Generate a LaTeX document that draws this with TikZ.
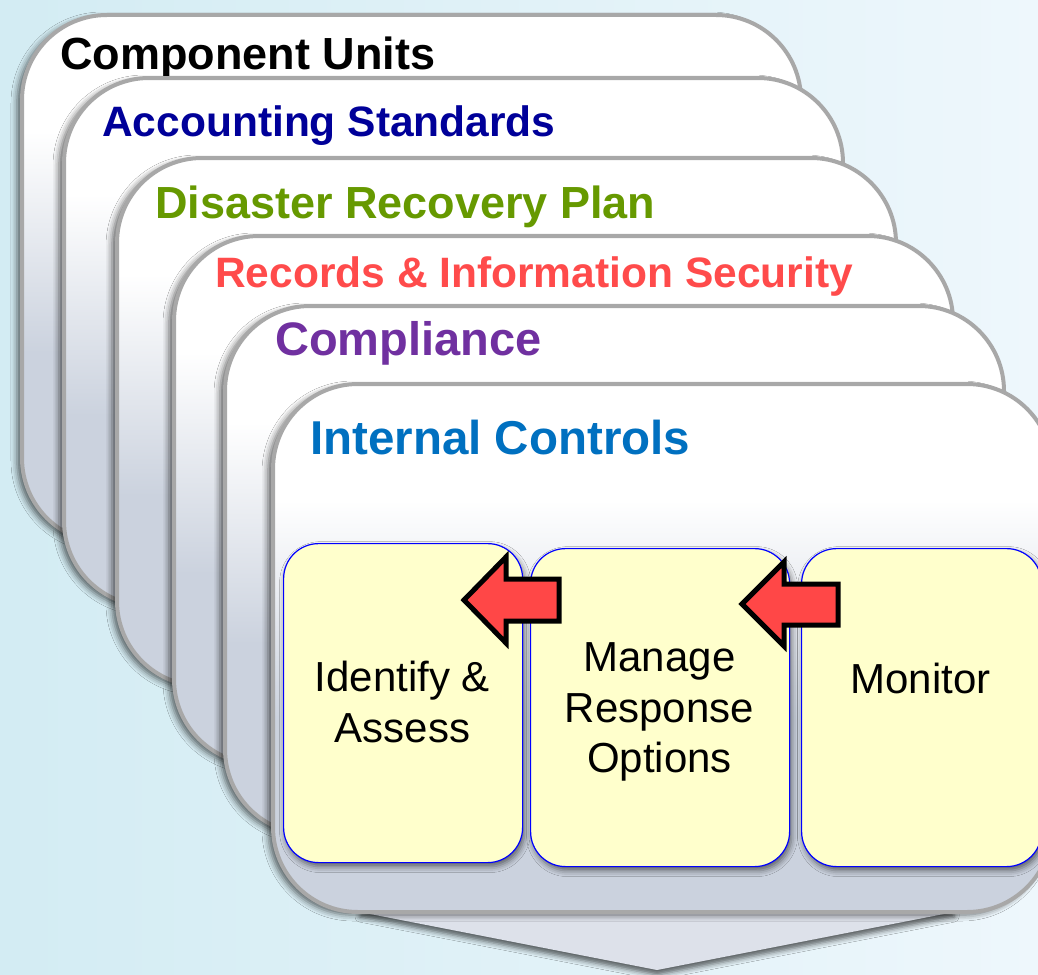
\documentclass[tikz,border=0pt]{standalone}
\usepackage{fontspec}
\setmainfont{Liberation Sans}
\usetikzlibrary{shadows.blur}
\definecolor{bgl}{RGB}{211,236,243}
\definecolor{bgr}{RGB}{238,247,252}
\definecolor{cb}{RGB}{203,210,222}
\definecolor{cardline}{RGB}{168,168,168}
\definecolor{boxfill}{RGB}{255,255,204}
\definecolor{arrowred}{RGB}{255,71,71}
\definecolor{tnavy}{RGB}{0,0,153}
\definecolor{tgreen}{RGB}{102,153,0}
\definecolor{tred}{RGB}{255,75,75}
\definecolor{tpurple}{RGB}{112,48,160}
\definecolor{tblue}{RGB}{0,112,192}
\definecolor{pentfill}{RGB}{221,225,234}
\pgfdeclareverticalshading{cardshade}{100bp}{color(0bp)=(cb); color(25bp)=(cb); color(43bp)=(cb); color(64bp)=(white); color(100bp)=(white)}
\tikzset{
  card/.style={draw=cardline, line width=4pt, rounded corners=85pt, shade, shading=cardshade,
    minimum width=779pt, minimum height=528pt, anchor=north west, inner sep=0pt,
    blur shadow={shadow xshift=-5pt, shadow yshift=-3pt, shadow blur radius=6pt, shadow opacity=60}},
  title/.style={anchor=base west, inner sep=0pt},
  ybox/.style={draw=blue, line width=1.2pt, fill=boxfill, rounded corners=35pt, inner sep=0pt,
    anchor=north west, blur shadow={shadow xshift=2pt, shadow yshift=-4pt, shadow blur radius=6pt, shadow opacity=55}},
  btext/.style={align=center, inner sep=0pt, font=\fontsize{42}{50.5}\selectfont},
  barrow/.style={draw=black, line width=5pt, fill=arrowred, line join=miter},
  pent/.style={fill=pentfill, blur shadow={shadow xshift=0pt, shadow yshift=-5pt, shadow blur radius=5pt, shadow opacity=60}}
}
\begin{document}
\begin{tikzpicture}[x=1pt, y=-1pt]
\useasboundingbox (0,0) rectangle (1038,974);
\clip (0,0) rectangle (1038,974);
\fill[left color=bgl, right color=bgr] (0,0) rectangle (1038,974);
% down chevron behind the stack
\path[pent] (360,880) -- (954,880) -- (954,912) -- (657,970) -- (360,912) -- cycle;
% stacked cards
\node[card] (c1) at (20,13) {};
\node[title, font=\fontsize{45}{54}\selectfont\bfseries, text=black] (t1) at (60,70) {Component Units};
\node[card] (c2) at (62,76) {};
\node[title, font=\fontsize{42.5}{51}\selectfont\bfseries, text=tnavy] (t2) at (102,136) {Accounting Standards};
\node[card] (c3) at (115,156) {};
\node[title, font=\fontsize{45}{54}\selectfont\bfseries, text=tgreen] (t3) at (155,218) {Disaster Recovery Plan};
\node[card] (c4) at (172,234) {};
\node[title, font=\fontsize{42.5}{51}\selectfont\bfseries, text=tred] (t4) at (215,287) {Records \& Information Security};
\node[card] (c5) at (223,304) {};
\node[title, font=\fontsize{47}{56}\selectfont\bfseries, text=tpurple] (t5) at (275,355) {Compliance};
\node[card] (c6) at (271,382) {};
\node[title, font=\fontsize{47.5}{57}\selectfont\bfseries, text=tblue] (t6) at (310,454) {Internal Controls};
% process boxes
\node[ybox, minimum width=239pt, minimum height=319pt] (b1) at (283,543) {};
\node[ybox, minimum width=259pt, minimum height=318pt] (b2) at (530,548) {};
\node[ybox, minimum width=240pt, minimum height=318pt] (b3) at (801,548) {};
\node[btext] (bt1) at (402.5,702) {Identify \&\\Assess};
\node[btext] (bt2) at (659.5,712) {Manage\\Response\\Options};
\node[btext] (bt3) at (920.5,678) {Monitor};
% block arrows
\draw[barrow] (464,600) -- (506,557) -- (506,579) -- (559,579) -- (559,621) -- (506,621) -- (506,643) -- cycle;
\draw[barrow] (742,604) -- (784,562) -- (784,584) -- (838,584) -- (838,625) -- (784,625) -- (784,646) -- cycle;
\end{tikzpicture}
\end{document}
